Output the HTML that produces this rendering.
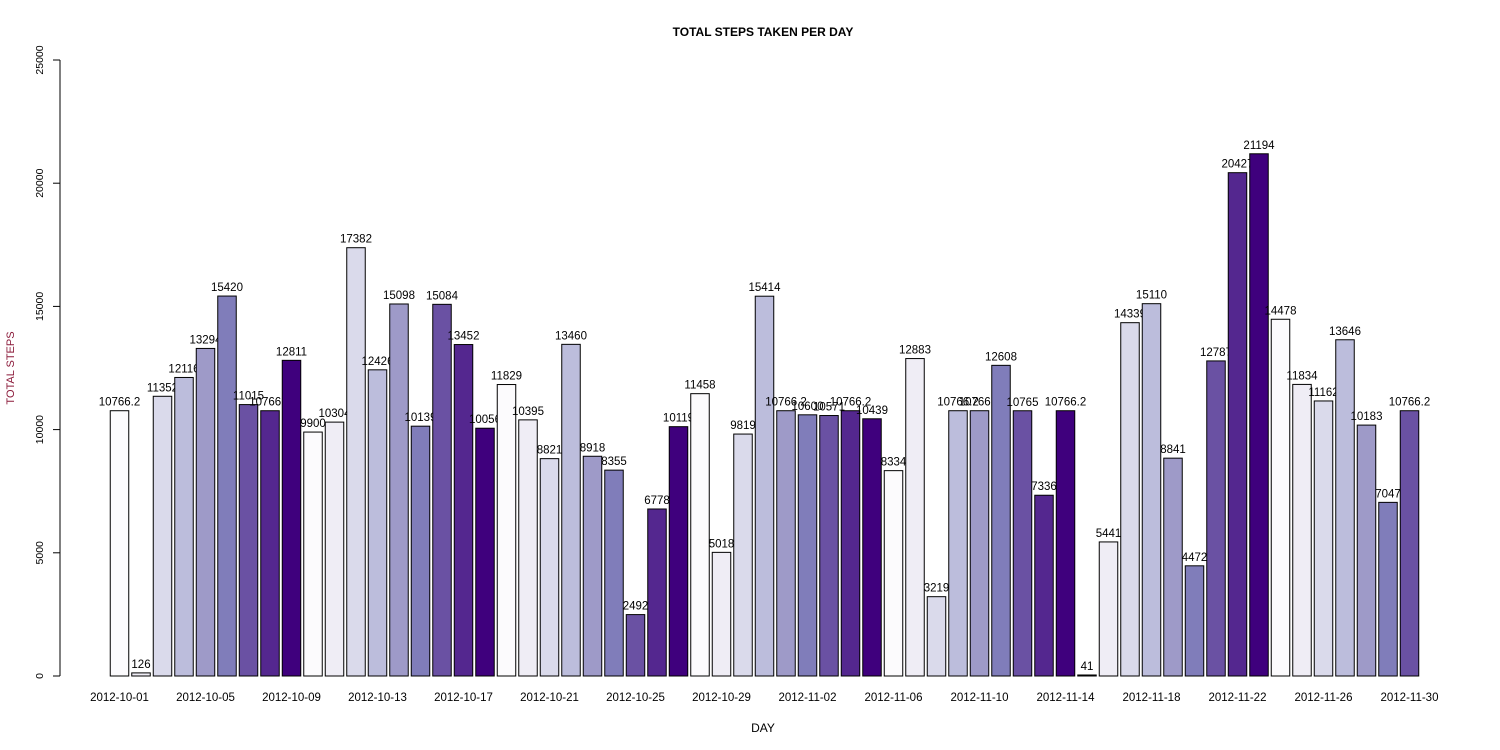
<!DOCTYPE html>
<html><head><meta charset="utf-8"><style>
html,body{margin:0;padding:0;background:#fff;}
svg{display:block;font-family:"Liberation Sans",Arial,sans-serif;}
</style></head><body>
<svg id="chart" width="1500" height="750">
<text x="763" y="36" text-anchor="middle" font-size="12" font-weight="bold">TOTAL STEPS TAKEN PER DAY</text>
<text x="763" y="732" text-anchor="middle" font-size="12">DAY</text>
<text transform="translate(14,368) rotate(-90)" text-anchor="middle" font-size="11" fill="#8b1a3a">TOTAL STEPS</text>
<g id="axes"></g><g id="bars"></g>
</svg>
<script>
const days = ["2012-10-01","2012-10-02","2012-10-03","2012-10-04","2012-10-05","2012-10-06","2012-10-07","2012-10-08","2012-10-09","2012-10-10","2012-10-11","2012-10-12","2012-10-13","2012-10-14","2012-10-15","2012-10-16","2012-10-17","2012-10-18","2012-10-19","2012-10-20","2012-10-21","2012-10-22","2012-10-23","2012-10-24","2012-10-25","2012-10-26","2012-10-27","2012-10-28","2012-10-29","2012-10-30","2012-10-31","2012-11-01","2012-11-02","2012-11-03","2012-11-04","2012-11-05","2012-11-06","2012-11-07","2012-11-08","2012-11-09","2012-11-10","2012-11-11","2012-11-12","2012-11-13","2012-11-14","2012-11-15","2012-11-16","2012-11-17","2012-11-18","2012-11-19","2012-11-20","2012-11-21","2012-11-22","2012-11-23","2012-11-24","2012-11-25","2012-11-26","2012-11-27","2012-11-28","2012-11-29","2012-11-30"];
const steps = [10766.2,126,11352,12116,13294,15420,11015,10766.2,12811,9900,10304,17382,12426,15098,10139,15084,13452,10056,11829,10395,8821,13460,8918,8355,2492,6778,10119,11458,5018,9819,15414,10766.2,10600,10571,10766.2,10439,8334,12883,3219,10766.2,10766.2,12608,10765,7336,10766.2,41,5441,14339,15110,8841,4472,12787,20427,21194,14478,11834,11162,13646,10183,7047,10766.2];
const yTicks = [0,5000,10000,15000,20000,25000];
const palette = ["#FCFBFD","#EFEDF5","#DADAEB","#BCBDDC","#9E9AC8","#807DBA","#6A51A3","#54278F","#3F007D"];
const NS="http://www.w3.org/2000/svg";
const y0=676,y1=60,ymax=25000;
function yScale(v){return y0-(v/ymax)*(y0-y1);}
const pitch=21.5, bw=18.5;
function xCenter(i){return 119.5+i*pitch;}
function mk(tag,attrs,parent){const e=document.createElementNS(NS,tag);for(const k in attrs)e.setAttribute(k,attrs[k]);parent.appendChild(e);return e;}
const axes=document.getElementById('axes'), bars=document.getElementById('bars');
const yl=mk('line',{x1:60,x2:60,y1:yScale(0),y2:yScale(25000),stroke:'#000'},axes);


yTicks.forEach(t=>{
  const y=yScale(t);
  mk('line',{x1:53,x2:60,y1:y,y2:y,stroke:'#000'},axes);
  const tx=mk('text',{transform:`translate(43,${y}) rotate(-90)`,'text-anchor':'middle','font-size':10.5},axes);
  tx.textContent=t;
  
  
});
steps.forEach((v,i)=>{
  const cx=xCenter(i), y=yScale(v);
  const r=mk('rect',{x:cx-bw/2,y:y,width:bw,height:yScale(0)-y,fill:palette[i%9],stroke:'#000','stroke-width':1},bars);
  
  
  const t=mk('text',{x:cx,y:y-5,'text-anchor':'middle','font-size':11.5},bars);
  t.textContent=String(v);
  
  
  if(i%4===0){
    const d=mk('text',{x:cx,y:701,'text-anchor':'middle','font-size':11.5},axes);
    d.textContent=days[i];
    
    
  }
});
</script>
</body></html>
